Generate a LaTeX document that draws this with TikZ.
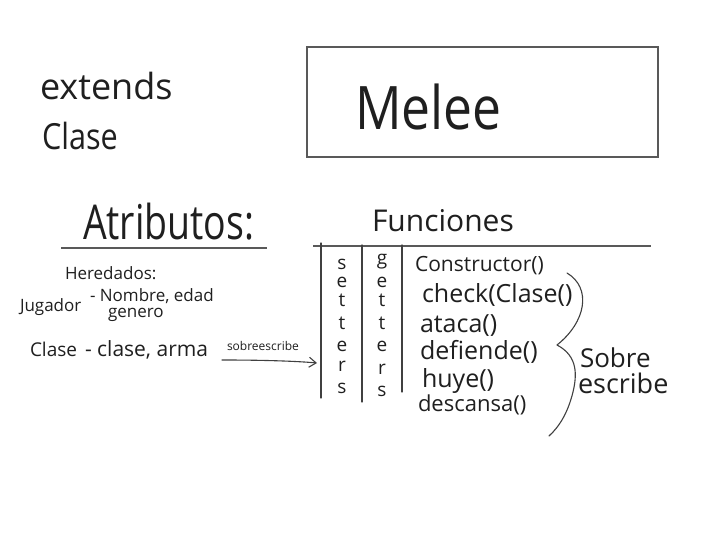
\documentclass[tikz,border=0pt]{standalone}
\usepackage{fontspec}
\usepackage{graphicx}
\setmainfont{Open Sans}
\usetikzlibrary{arrows.meta}
\newcommand\fs[1]{\fontsize{#1}{#1}\selectfont}
\newcommand\sx[2]{\scalebox{#1}[1]{#2}}
\tikzset{
  hand/.style={inner sep=0pt, outer sep=0pt, anchor=base west, text=black!88},
  letter/.style={inner sep=0pt, outer sep=0pt, anchor=base, text=black!88, font=\fs{19}},
  pen/.style={draw=black!75, line width=1.1pt, line cap=round, line join=round},
  rule/.style={draw=black!65, line width=1.4pt}
}
\begin{document}
\begin{tikzpicture}[x=1pt,y=-1pt]
\useasboundingbox[fill=white] (0,0) rectangle (704,534);

% class header
\node[hand] (ext) at (40,100) {\fs{36}extends};
\node[hand] (cls) at (42,150) {\sx{0.85}{\fs{36}Clase}};
\draw[rule] (307,47) rectangle (658,157);
\node[hand] (melee) at (355,130) {\sx{0.86}{\fs{60}Melee}};

% attributes
\node[hand] (attr) at (83,240) {\sx{0.78}{\fs{48}Atributos:}};
\draw[rule] (61,248) -- (267,248);
\node[hand] (her) at (65,280) {\fs{17}Heredados:};
\node[hand] (jug) at (20,312) {\fs{17}Jugador};
\node[hand] (nom) at (90,302) {\fs{17}- Nombre, edad};
\node[hand] (gen) at (108,318) {\fs{17}genero};
\node[hand] (clb) at (30,357) {\fs{19}Clase};
\node[hand] (arma) at (85,357) {\fs{21}- clase, arma};
\node[hand] (sob) at (227,351) {\fs{12}sobreescribe};
\coordinate (arrS) at (222,360);
\coordinate (arrE) at (317,363);
\draw[pen, -{Straight Barb[length=7pt,width=10pt]}] (arrS) .. controls (260,360) and (295,361) .. (arrE);

% functions
\node[hand] (fun) at (372,232) {\fs{30}Funciones};
\draw[rule] (313,246) -- (651,246);
\draw[pen] (321,243) -- (321,398);
\draw[pen] (362,245) -- (362,402);
\draw[pen] (402,245) -- (402,392);

\foreach \c/\y [count=\i] in {s/270,e/288,t/307,t/330,e/352,r/372,s/393}
  \node[letter] (set\i) at (342,\y) {\c};
\foreach \c/\y [count=\i] in {g/265,e/288,t/307,t/330,e/352,r/374,s/396}
  \node[letter] (get\i) at (382,\y) {\c};

\node[hand] (con) at (415,272) {\fs{21}Constructor()};
\node[hand] (chk) at (422,303) {\fs{25}check(Clase()};
\node[hand] (ata) at (420,333) {\fs{25}ataca()};
\node[hand] (def) at (420,360) {\fs{25}defiende()};
\node[hand] (huy) at (422,388) {\fs{25}huye()};
\node[hand] (des) at (418,411) {\fs{22}descansa()};

% overridden group
\coordinate (brT) at (567,273);
\coordinate (brM) at (557,345);
\coordinate (brB) at (549,436);
\draw[pen] (brT) .. controls (592,288) and (586,322) .. (brM)
  .. controls (578,356) and (577,375) .. (573,392)
  .. controls (568,412) and (560,426) .. (brB);
\node[hand] (sobre) at (580,367) {\fs{26}Sobre};
\node[hand] (escr) at (578,393) {\fs{27}escribe};
\end{tikzpicture}
\end{document}
